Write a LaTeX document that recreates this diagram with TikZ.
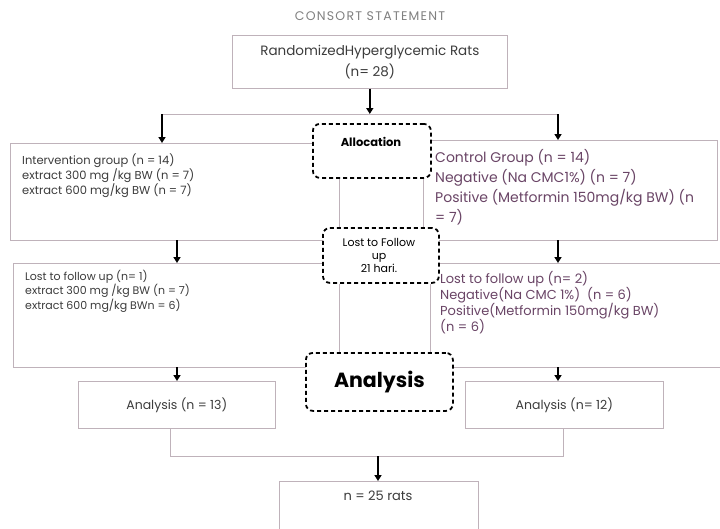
\documentclass[tikz,border=0pt]{standalone}
\usepackage{fontspec}
\setmainfont{Poppins}
\newfontfamily\titlefont[LetterSpace=10]{Poppins}
\usetikzlibrary{arrows.meta}
\definecolor{boxline}{HTML}{BFB2BA}
\definecolor{txt}{HTML}{3C3C3C}
\definecolor{ptxt}{HTML}{6A4566}
\begin{document}
\begin{tikzpicture}[x=1pt,y=-1pt,
 area/.style={draw=none, rectangle, inner sep=0pt, anchor=north west},
 edge/.style={draw=boxline, line width=0.6pt},
 arr/.style={draw=black, line width=1.6pt, -{Triangle[length=6pt,width=7pt]}},
 dbox/.style={draw=black, line width=1.8pt, dash pattern=on 4pt off 3pt, rounded corners=7pt, fill=white, inner sep=0pt, anchor=north west, text=black},
 lbl/.style={inner sep=0pt, text=txt, align=left, anchor=north west},
]
\useasboundingbox (0,0) rectangle (720,528);
\fill[white] (0,0) rectangle (720,528);

\node[lbl, anchor=center, text=gray, font=\titlefont\fontsize{12.5}{14}\selectfont] (title) at (370,16) {CONSORT STATEMENT};

\node[area, draw=boxline, line width=0.6pt, minimum width=275pt, minimum height=53pt, align=center, text=txt, font=\fontsize{13.5}{21}\selectfont] (top) at (232,35) {RandomizedHyperglycemic Rats\\(n= 28)};

% group boxes
\node[area, minimum width=315pt, minimum height=97pt] (b1) at (10,143) {};
\draw[edge] (b1.north east) -- (b1.north west) -- (b1.south west) -- (b1.south east);
\node[area, minimum width=292pt, minimum height=100pt] (b2) at (425,140) {};
\draw[edge] (b2.north west) -- (b2.north east) -- (b2.south east) -- (b2.south west);
\node[area, minimum width=312pt, minimum height=104pt] (b3) at (13,263) {};
\draw[edge] (b3.north east) -- (b3.north west) -- (b3.south west) -- (b3.south east);
\node[area, minimum width=300pt, minimum height=104pt] (b4) at (430,263) {};
\draw[edge] (b4.north west) -- (b4.north east);
\draw[edge] (b4.south west) -- (b4.south east);

\node[lbl, font=\fontsize{11.5}{15}\selectfont] (t1) at (22,154) {Intervention group (n = 14)\\extract 300 mg /kg BW (n = 7)\\extract 600 mg/kg BW (n = 7)};
\node[lbl, text=ptxt, font=\fontsize{14}{20}\selectfont] (t2) at (435,149.6) {Control Group (n = 14)\\Negative (Na CMC1\%) (n = 7)\\Positive (Metformin 150mg/kg BW) (n\\= 7)};
\node[lbl, font=\fontsize{11}{13}\selectfont] (t3) at (25,270) {Lost to follow up (n= 1)\\extract 300 mg /kg BW (n = 7)\\extract 600 mg/kg BWn = 6)};
\node[lbl, text=ptxt, font=\fontsize{13}{16}\selectfont] (t4) at (440,271) {Lost to follow up (n= 2)\\Negative(Na CMC 1\%)\ \ (n = 6)\\Positive(Metformin 150mg/kg BW)\\(n = 6)};

% analysis boxes
\node[area, draw=boxline, line width=0.6pt, minimum width=197pt, minimum height=47pt, text=txt, font=\fontsize{12.5}{14}\selectfont] (an1) at (78,381) {Analysis (n = 13)};
\node[area, draw=boxline, line width=0.6pt, minimum width=198pt, minimum height=47pt, text=txt, font=\fontsize{12.5}{14}\selectfont] (an2) at (465,381) {Analysis (n= 12)};
\node[area, minimum width=199pt, minimum height=50pt] (bot) at (279,481) {};
\draw[edge] (bot.south west) -- (bot.north west) -- (bot.north east) -- (bot.south east);
\node[lbl, anchor=center, font=\fontsize{13}{15}\selectfont] (bottxt) at (378,496) {n = 25 rats};

% connectors
\coordinate (hl) at (162,114);
\coordinate (hr) at (558,114);
\coordinate (c1) at (339,0);
\coordinate (c2) at (423,0);
\coordinate (c3) at (430,0);
\coordinate (a1) at (177,0);
\coordinate (a2) at (558,0);
\coordinate (bl) at (170,456);
\coordinate (br) at (563,456);
\coordinate (bm) at (378,456);
\draw[edge] (hl) -- (hr);

% dashed boxes
\node[dbox, minimum width=118pt, minimum height=54pt] (alloc) at (312,123) {};
\node[lbl, anchor=center, text=black, font=\bfseries\fontsize{11.5}{13}\selectfont] (alloctxt) at (371,142) {Allocation};
\node[dbox, minimum width=116pt, minimum height=55pt] (lost) at (322,227) {};
\node[lbl, anchor=center, align=center, text=black, font=\fontsize{11}{13}\selectfont] (losttxt) at (379,255) {Lost to Follow\\up\\21 hari.};
\node[dbox, minimum width=147pt, minimum height=58pt, font=\bfseries\fontsize{20.5}{22}\selectfont] (ana) at (305,352) {Analysis};

\draw[edge] (alloc.south -| c1) -- (lost.north -| c1);
\draw[edge] (alloc.south -| c2) -- (lost.north -| c2);
\draw[edge] (lost.south -| c1) -- (ana.north -| c1);
\draw[edge] (lost.south -| c3) -- (ana.north -| c3);

\draw[arr] (top.south) -- (top.south |- hl);
\draw[arr] (hl) -- (b1.north -| hl);
\draw[arr] (hr) -- (b2.north -| hr);
\draw[arr] (b1.south -| a1) -- (b3.north -| a1);
\draw[arr] (b2.south -| a2) -- (b4.north -| a2);
\draw[arr] (b3.south -| a1) -- (an1.north -| a1);
\draw[arr] (b4.south -| a2) -- (an2.north -| a2);
\draw[edge] (an1.south -| bl) -- (bl) -- (br) -- (an2.south -| br);
\draw[arr] (bm) -- (bot.north -| bm);
\end{tikzpicture}
\end{document}
